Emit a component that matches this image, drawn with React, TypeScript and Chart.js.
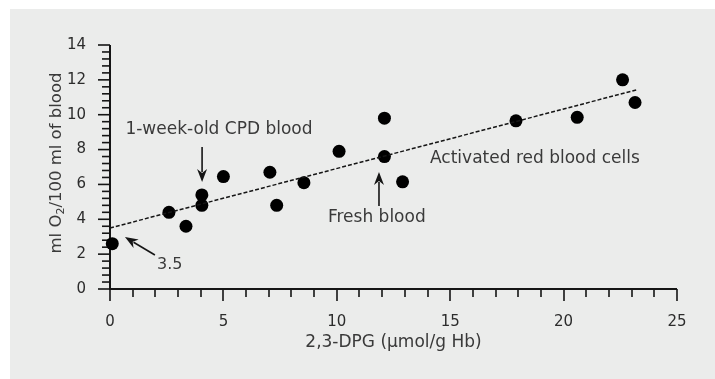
import React, { useEffect, useRef } from "react";
import { Chart, registerables } from "chart.js";

Chart.register(...registerables);

// Data
const dpgValues = [0.1, 2.6, 3.35, 4.05, 4.05, 5.0, 7.05, 7.35, 8.55, 10.1, 12.1, 12.1, 12.9, 17.9, 20.6, 22.6, 23.15];
const o2Values = [2.6, 4.4, 3.6, 4.8, 5.4, 6.45, 6.7, 4.8, 6.1, 7.9, 9.8, 7.6, 6.15, 9.65, 9.85, 12.0, 10.7];
const fitX = [0, 23.2];
const fitY = [3.5, 11.42];

const xMin = 0;
const xMax = 25;
const xMajorStep = 5;
const xMinorStep = 1;
const yMin = 0;
const yMax = 14;
const yMajorStep = 2;
const yMinorStep = 0.4;

const xTitle = "2,3-DPG (\u00b5mol/g Hb)";
const yTitleParts = ["ml O", "2", "/100 ml of blood"];

const annotations = [
  { text: "1-week-old CPD blood", x: 0.68, y: 9.12, align: "left" },
  { text: "Activated red blood cells", x: 14.11, y: 7.46, align: "left" },
  { text: "Fresh blood", x: 9.61, y: 4.07, align: "left" },
  { text: "3.5", x: 2.07, y: 1.38, align: "left" },
];

const arrows = [
  { fromX: 4.06, fromY: 8.15, toX: 4.06, toY: 6.14 },
  { fromX: 11.86, fromY: 4.76, toX: 11.86, toY: 6.71 },
  { fromX: 1.98, fromY: 1.95, toX: 0.66, toY: 2.98 },
];

const FONT = "'DejaVu Sans', sans-serif";
const TEXT = "#3a3a3a";
const INK = "#151515";

const decorPlugin = {
  id: "decor",
  beforeDraw(chart: any) {
    const { ctx, width, height } = chart;
    ctx.save();
    ctx.fillStyle = "#ffffff";
    ctx.fillRect(0, 0, width, height);
    ctx.fillStyle = "#ebeceb";
    ctx.fillRect(10, 9, width - 10, height - 9);
    ctx.restore();
  },
  beforeDatasetsDraw(chart: any) {
    const { ctx } = chart;
    const xs = chart.scales.x;
    const ys = chart.scales.y;
    const x0 = xs.getPixelForValue(xMin);
    const x1 = xs.getPixelForValue(xMax);
    const y0 = ys.getPixelForValue(yMin);
    const y1 = ys.getPixelForValue(yMax);
    ctx.save();
    ctx.strokeStyle = INK;
    ctx.lineWidth = 2;
    ctx.beginPath();
    ctx.moveTo(x0, y1);
    ctx.lineTo(x0, y0);
    ctx.lineTo(x1, y0);
    ctx.stroke();
    ctx.lineWidth = 1.6;
    // x ticks
    const nx = Math.round((xMax - xMin) / xMinorStep);
    for (let i = 0; i <= nx; i++) {
      const v = xMin + i * xMinorStep;
      const px = Math.round(xs.getPixelForValue(v)) + 0.0;
      const major = Math.abs(v / xMajorStep - Math.round(v / xMajorStep)) < 1e-6;
      ctx.beginPath();
      ctx.moveTo(px, y0);
      ctx.lineTo(px, y0 + (major ? 12 : 8));
      ctx.stroke();
    }
    // y ticks
    const ny = Math.round((yMax - yMin) / yMinorStep);
    for (let i = 0; i <= ny; i++) {
      const v = yMin + i * yMinorStep;
      const py = ys.getPixelForValue(v);
      const major = Math.abs(v / yMajorStep - Math.round(v / yMajorStep)) < 1e-6;
      ctx.beginPath();
      ctx.moveTo(x0, py);
      ctx.lineTo(x0 - (major ? 12 : 8), py);
      ctx.stroke();
    }
    // titles
    ctx.fillStyle = TEXT;
    ctx.font = `17px ${FONT}`;
    ctx.textAlign = "center";
    ctx.textBaseline = "middle";
    ctx.fillText(xTitle, (x0 + x1) / 2, 343);

    ctx.save();
    ctx.translate(55, (y0 + y1) / 2 - 4);
    ctx.rotate(-Math.PI / 2);
    const mainFont = `16.5px ${FONT}`;
    const subFont = `11px ${FONT}`;
    ctx.font = mainFont;
    const w0 = ctx.measureText(yTitleParts[0]).width;
    const w2 = ctx.measureText(yTitleParts[2]).width;
    ctx.font = subFont;
    const w1 = ctx.measureText(yTitleParts[1]).width;
    const total = w0 + w1 + w2;
    let cx = -total / 2;
    ctx.textAlign = "left";
    ctx.textBaseline = "alphabetic";
    ctx.font = mainFont;
    ctx.fillText(yTitleParts[0], cx, 6);
    cx += w0;
    ctx.font = subFont;
    ctx.fillText(yTitleParts[1], cx, 9);
    cx += w1;
    ctx.font = mainFont;
    ctx.fillText(yTitleParts[2], cx, 6);
    ctx.restore();
    ctx.restore();
  },
  afterDatasetsDraw(chart: any) {
    const { ctx } = chart;
    const xs = chart.scales.x;
    const ys = chart.scales.y;
    ctx.save();
    ctx.fillStyle = TEXT;
    ctx.textBaseline = "middle";
    annotations.forEach((a) => {
      ctx.font = a.text === "3.5" ? `16px ${FONT}` : `17px ${FONT}`;
      ctx.textAlign = a.align as CanvasTextAlign;
      ctx.fillText(a.text, xs.getPixelForValue(a.x), ys.getPixelForValue(a.y));
    });
    ctx.strokeStyle = INK;
    ctx.fillStyle = INK;
    ctx.lineWidth = 1.6;
    arrows.forEach((a) => {
      const fx = xs.getPixelForValue(a.fromX);
      const fy = ys.getPixelForValue(a.fromY);
      const tx = xs.getPixelForValue(a.toX);
      const ty = ys.getPixelForValue(a.toY);
      const ang = Math.atan2(ty - fy, tx - fx);
      const headLen = 13;
      const headW = 5;
      const bx = tx - headLen * Math.cos(ang);
      const by = ty - headLen * Math.sin(ang);
      ctx.beginPath();
      ctx.moveTo(fx, fy);
      ctx.lineTo(bx + 3 * Math.cos(ang), by + 3 * Math.sin(ang));
      ctx.stroke();
      ctx.beginPath();
      ctx.moveTo(tx, ty);
      ctx.lineTo(bx + headW * Math.sin(ang), by - headW * Math.cos(ang));
      ctx.lineTo(bx + 4 * Math.cos(ang), by + 4 * Math.sin(ang));
      ctx.lineTo(bx - headW * Math.sin(ang), by + headW * Math.cos(ang));
      ctx.closePath();
      ctx.fill();
    });
    ctx.restore();
  },
};

export default function App() {
  const ref = useRef<HTMLCanvasElement | null>(null);
  useEffect(() => {
    if (!ref.current) return;
    const chart = new Chart(ref.current, {
      type: "scatter",
      data: {
        datasets: [
          {
            type: "line",
            data: fitX.map((x, i) => ({ x, y: fitY[i] })),
            borderColor: INK,
            borderWidth: 1.5,
            borderDash: [4, 2],
            pointRadius: 0,
            fill: false,
            clip: false,
          } as any,
          {
            data: dpgValues.map((x, i) => ({ x, y: o2Values[i] })),
            backgroundColor: "#000000",
            borderColor: "#000000",
            borderWidth: 0,
            pointRadius: 6.5,
            pointHoverRadius: 6.5,
            clip: false,
          } as any,
        ],
      },
      options: {
        animation: false,
        responsive: false,
        devicePixelRatio: 1,
        events: [],
        layout: { padding: { left: 0, top: 45, right: 38, bottom: 0 } },
        plugins: {
          legend: { display: false },
          tooltip: { enabled: false },
          title: { display: false },
        },
        scales: {
          x: {
            type: "linear",
            min: xMin,
            max: xMax,
            grid: { display: false },
            border: { display: false },
            ticks: {
              stepSize: xMajorStep,
              padding: 16,
              color: "#2c2c2c",
              font: { family: FONT, size: 15 },
              maxRotation: 0,
            },
            afterFit(scale: any) {
              scale.height = 90;
            },
          },
          y: {
            type: "linear",
            min: yMin,
            max: yMax,
            grid: { display: false },
            border: { display: false },
            ticks: {
              stepSize: yMajorStep,
              padding: 16,
              color: "#2c2c2c",
              font: { family: FONT, size: 15 },
            },
            afterFit(scale: any) {
              scale.width = 110;
            },
          },
        },
      },
      plugins: [decorPlugin],
    });
    return () => chart.destroy();
  }, []);
  return (
    <div style={{ position: "fixed", left: 0, top: 0, width: 715, height: 379 }}>
      <canvas ref={ref} width={715} height={379} style={{ width: 715, height: 379, display: "block" }} />
    </div>
  );
}
